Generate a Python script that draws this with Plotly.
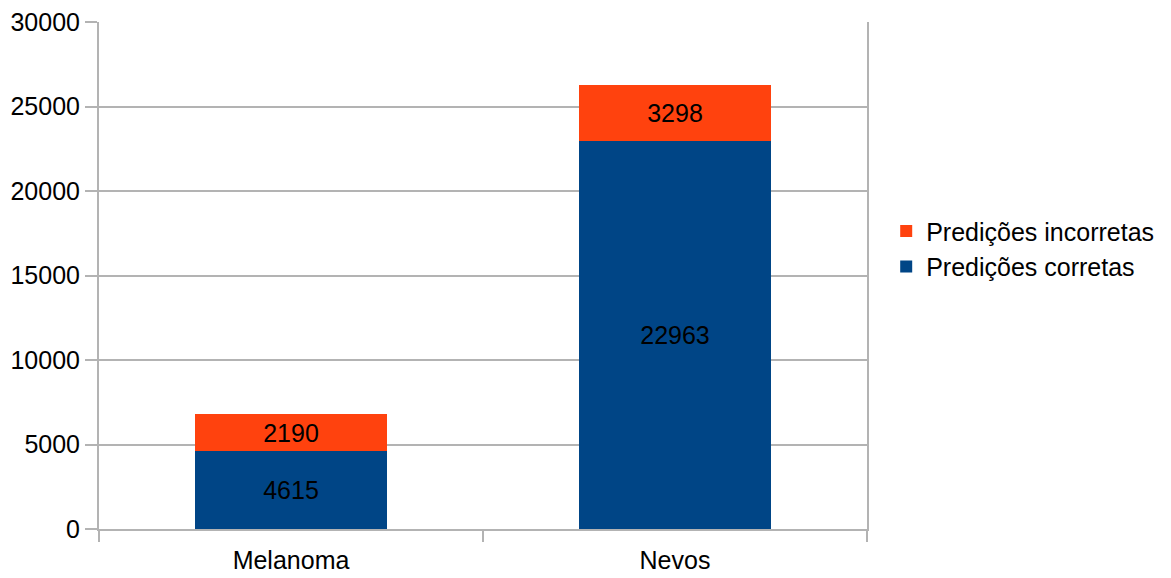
import plotly.graph_objects as go

categories = ["Melanoma", "Nevos"]
corretas = [4615, 22963]
incorretas = [2190, 3298]
y_ticks = [0, 5000, 10000, 15000, 20000, 25000, 30000]

FONT = "Liberation Sans, Arial, sans-serif"
GRID = "#b3b3b3"

fig = go.Figure()
fig.add_trace(go.Bar(
    x=categories, y=corretas, name="Predições corretas",
    marker=dict(color="#004586", line=dict(width=0)),
    text=[str(v) for v in corretas], textposition="inside",
    insidetextanchor="middle", constraintext="none",
    textfont=dict(color="black", size=25, family=FONT),
))
fig.add_trace(go.Bar(
    x=categories, y=incorretas, name="Predições incorretas",
    marker=dict(color="#ff420e", line=dict(width=0)),
    text=[str(v) for v in incorretas], textposition="inside",
    insidetextanchor="middle", constraintext="none",
    textfont=dict(color="black", size=25, family=FONT),
))

fig.update_layout(
    barmode="stack",
    bargap=0.5,
    width=1171, height=578,
    margin=dict(l=99, r=297, t=22, b=49),
    paper_bgcolor="white", plot_bgcolor="white",
    font=dict(family=FONT, size=25, color="black"),
    legend=dict(
        traceorder="reversed",
        x=1.025, xanchor="left",
        y=0.553, yanchor="middle",
        font=dict(size=25, family=FONT),
        bgcolor="rgba(0,0,0,0)",
    ),
    xaxis=dict(
        type="category",
        automargin=False,
        tickson="boundaries",
        ticks="outside", ticklen=11, tickcolor=GRID, tickwidth=2,
        showline=True, linecolor=GRID, linewidth=2,
        showgrid=False,
        ticklabelstandoff=8,
        tickfont=dict(size=25, family=FONT, color="black"),
    ),
    yaxis=dict(
        range=[0, 30000],
        automargin=False,
        tickvals=y_ticks,
        ticktext=[str(v) for v in y_ticks],
        ticks="outside", ticklen=12, tickcolor=GRID, tickwidth=2,
        showgrid=True, gridcolor=GRID, gridwidth=1.5,
        showline=True, linecolor=GRID, linewidth=2, mirror=True,
        zeroline=False,
        ticklabelstandoff=0,
        tickfont=dict(size=25, family=FONT, color="black"),
    ),
)

fig.write_html("out.html")
